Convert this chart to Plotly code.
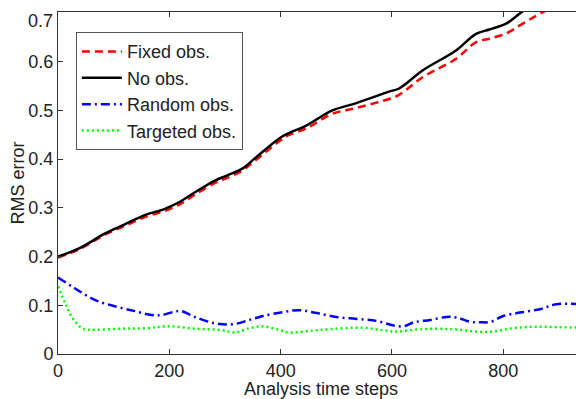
import plotly.graph_objects as go

# Analysis time steps and RMS error values
no_obs_x = [0, 40, 84, 120, 156, 192, 220, 246, 282, 305, 332, 353, 398, 414, 446, 493, 536, 596, 613, 655, 715, 751, 775, 805, 832, 870, 945]
no_obs_y = [0.200, 0.218, 0.247, 0.266, 0.285, 0.298, 0.313, 0.332, 0.356, 0.367, 0.381, 0.401, 0.443, 0.453, 0.469, 0.500, 0.515, 0.539, 0.545, 0.582, 0.623, 0.657, 0.666, 0.678, 0.701, 0.730, 0.780]

fixed_x = [0, 40, 84, 120, 156, 192, 220, 246, 282, 305, 332, 353, 398, 414, 446, 493, 536, 596, 613, 655, 715, 751, 775, 805, 832, 870, 945]
fixed_y = [0.198, 0.216, 0.245, 0.263, 0.281, 0.294, 0.308, 0.327, 0.351, 0.362, 0.377, 0.396, 0.437, 0.449, 0.463, 0.493, 0.505, 0.524, 0.532, 0.568, 0.606, 0.640, 0.647, 0.658, 0.676, 0.701, 0.740]

random_x = [0, 30, 66, 102, 138, 168, 186, 210, 222, 246, 282, 314, 344, 368, 404, 434, 465, 500, 536, 572, 601, 621, 639, 669, 698, 716, 741, 759, 777, 800, 830, 866, 895, 945]
random_y = [0.157, 0.135, 0.111, 0.098, 0.088, 0.080, 0.080, 0.087, 0.088, 0.076, 0.063, 0.061, 0.070, 0.078, 0.086, 0.090, 0.084, 0.076, 0.072, 0.068, 0.059, 0.057, 0.065, 0.070, 0.076, 0.075, 0.066, 0.065, 0.066, 0.078, 0.085, 0.092, 0.102, 0.102]

targeted_x = [0, 13, 25, 43, 54, 115, 160, 197, 246, 294, 318, 344, 368, 398, 416, 457, 488, 547, 583, 608, 651, 709, 770, 818, 859, 901, 945]
targeted_y = [0.139, 0.104, 0.076, 0.053, 0.050, 0.052, 0.053, 0.057, 0.052, 0.049, 0.044, 0.053, 0.057, 0.049, 0.044, 0.048, 0.051, 0.054, 0.049, 0.046, 0.051, 0.051, 0.045, 0.053, 0.056, 0.055, 0.054]

x_ticks = [0, 200, 400, 600, 800]
y_ticks = [0, 0.1, 0.2, 0.3, 0.4, 0.5, 0.6, 0.7]
y_tick_labels = ["0", "0.1", "0.2", "0.3", "0.4", "0.5", "0.6", ""]
top_label = "0.7"

FONT = "Liberation Sans, Arial, Helvetica, sans-serif"
TXT = "#222222"

fig = go.Figure()
fig.add_trace(go.Scatter(x=fixed_x, y=fixed_y, mode="lines", name="Fixed obs.",
                         line=dict(color="#FF0000", width=2.5, dash="8px,5px", shape="spline")))
fig.add_trace(go.Scatter(x=no_obs_x, y=no_obs_y, mode="lines", name="No obs.",
                         line=dict(color="#000000", width=2.5, shape="spline")))
fig.add_trace(go.Scatter(x=random_x, y=random_y, mode="lines", name="Random obs.",
                         line=dict(color="#0000FF", width=2.5, dash="9px,4px,2px,4px", shape="spline")))
fig.add_trace(go.Scatter(x=targeted_x, y=targeted_y, mode="lines", name="Targeted obs.",
                         line=dict(color="#00FF00", width=2.5, dash="2px,3px", shape="spline")))

axis_common = dict(showgrid=False, zeroline=False, showline=True, linecolor="#333333",
                   linewidth=1, mirror="ticks", ticks="inside", ticklen=5,
                   tickcolor="#333333", tickfont=dict(family=FONT, size=18, color=TXT))

fig.update_xaxes(range=[0, 945], tickvals=x_ticks,
                 title=dict(text="Analysis time steps", font=dict(family=FONT, size=18, color=TXT), standoff=0),
                 **axis_common)
fig.update_yaxes(range=[0, 0.702], tickvals=y_ticks, ticktext=y_tick_labels,
                 title=dict(text="RMS error", font=dict(family=FONT, size=18, color=TXT), standoff=0),
                 **axis_common)

# top y label sits slightly below its tick in the reference
fig.add_annotation(x=0, y=y_ticks[-1], xref="paper", yref="y", text=top_label,
                   showarrow=False, xanchor="right", yanchor="middle",
                   xshift=-3, yshift=-8, font=dict(family=FONT, size=18, color=TXT))

# The page body adds an 8px offset, so the figure is sized to fill the rest of the window
fig.update_layout(
    width=576, height=391,
    margin=dict(l=50, r=0, t=4, b=45),
    paper_bgcolor="white", plot_bgcolor="white",
    showlegend=True,
    legend=dict(x=0.034, y=0.941, xanchor="left", yanchor="top",
                bgcolor="white", bordercolor="#555555", borderwidth=1,
                font=dict(family=FONT, size=18, color=TXT),
                tracegroupgap=0, itemwidth=40),
)

fig.write_html("out.html")
